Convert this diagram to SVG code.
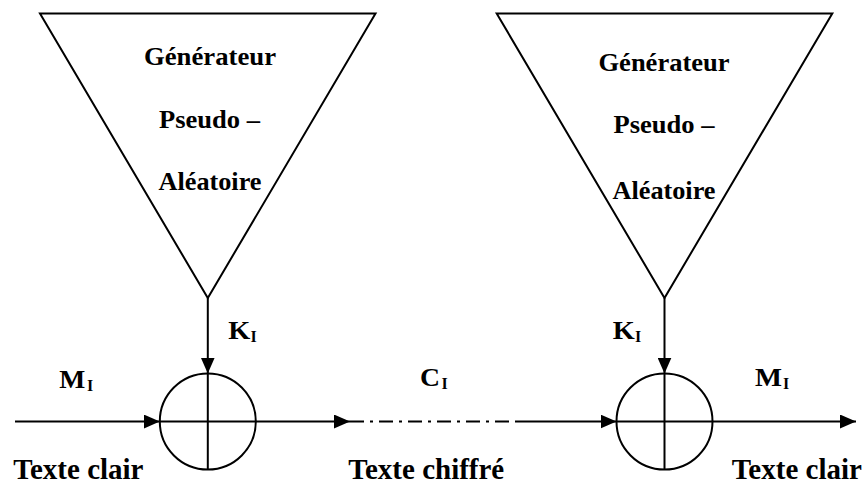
<svg xmlns="http://www.w3.org/2000/svg" width="866" height="484" viewBox="0 0 866 484">
<style>
.ln{stroke:#000;stroke-width:2;fill:none}
text{font-family:'Liberation Serif','Times New Roman','DejaVu Serif',serif;font-weight:bold;fill:#000}
.g{font-size:26px;text-anchor:middle}
.lab{font-size:26px}
.sub{font-size:16px}
.big{font-size:29px}
</style>
<defs>
<marker id="ah" markerWidth="16" markerHeight="14" refX="16" refY="7" orient="auto" markerUnits="userSpaceOnUse">
<path d="M0,0 L16,7 L0,14 Z" fill="#000"/>
</marker>
</defs>
<rect width="866" height="484" fill="#fff"/>
<g id="gen1">
<polygon class="ln" points="40,13.5 375.5,13.5 207.8,298"/>
<text class="g" x="210" y="65" textLength="132" lengthAdjust="spacingAndGlyphs">Générateur</text>
<text class="g" x="209.5" y="128" textLength="101" lengthAdjust="spacingAndGlyphs">Pseudo –</text>
<text class="g" x="210" y="190" textLength="103" lengthAdjust="spacingAndGlyphs">Aléatoire</text>
</g>
<g id="gen2">
<polygon class="ln" points="496.7,13.5 832.3,13.5 664.5,298"/>
<text class="g" x="664" y="71" textLength="131" lengthAdjust="spacingAndGlyphs">Générateur</text>
<text class="g" x="664" y="133" textLength="101" lengthAdjust="spacingAndGlyphs">Pseudo –</text>
<text class="g" x="664" y="199" textLength="103" lengthAdjust="spacingAndGlyphs">Aléatoire</text>
</g>
<g id="xor1">
<circle class="ln" cx="207.8" cy="421.5" r="48"/>
<line class="ln" x1="159.8" y1="421.5" x2="255.8" y2="421.5"/>
<line class="ln" x1="207.8" y1="373.5" x2="207.8" y2="469.5"/>
</g>
<g id="xor2">
<circle class="ln" cx="664.5" cy="421.5" r="48"/>
<line class="ln" x1="616.5" y1="421.5" x2="712.5" y2="421.5"/>
<line class="ln" x1="664.5" y1="373.5" x2="664.5" y2="469.5"/>
</g>
<g id="connectors">
<line class="ln" x1="15" y1="421.5" x2="159.8" y2="421.5" marker-end="url(#ah)"/>
<line class="ln" x1="255.8" y1="421.5" x2="350" y2="421.5" marker-end="url(#ah)"/>
<line class="ln" x1="350" y1="421.5" x2="518" y2="421.5" stroke-dasharray="14,6,3,6"/>
<line class="ln" x1="518" y1="421.5" x2="616.5" y2="421.5" marker-end="url(#ah)"/>
<line class="ln" x1="712.5" y1="421.5" x2="856" y2="421.5" marker-end="url(#ah)"/>
<line class="ln" x1="207.8" y1="298" x2="207.8" y2="373.5" marker-end="url(#ah)"/>
<line class="ln" x1="664.5" y1="298" x2="664.5" y2="373.5" marker-end="url(#ah)"/>
</g>
<g id="labels">
<text class="lab" x="59.3" y="387.5" textLength="26" lengthAdjust="spacingAndGlyphs">M</text><text class="sub" x="87" y="390.5">I</text>
<text class="lab" x="228.3" y="338.5" textLength="22" lengthAdjust="spacingAndGlyphs">K</text><text class="sub" x="250.5" y="342">I</text>
<text class="lab" x="420" y="385.5" textLength="20" lengthAdjust="spacingAndGlyphs">C</text><text class="sub" x="441.5" y="388.5">I</text>
<text class="lab" x="612.7" y="338.5" textLength="22" lengthAdjust="spacingAndGlyphs">K</text><text class="sub" x="635" y="342">I</text>
<text class="lab" x="755" y="385.5" textLength="27" lengthAdjust="spacingAndGlyphs">M</text><text class="sub" x="783" y="388.5">I</text>
<text class="big" x="13.3" y="479">Texte clair</text>
<text class="big" x="348.3" y="479">Texte chiffré</text>
<text class="big" x="731.7" y="479">Texte clair</text>
</g>
</svg>
